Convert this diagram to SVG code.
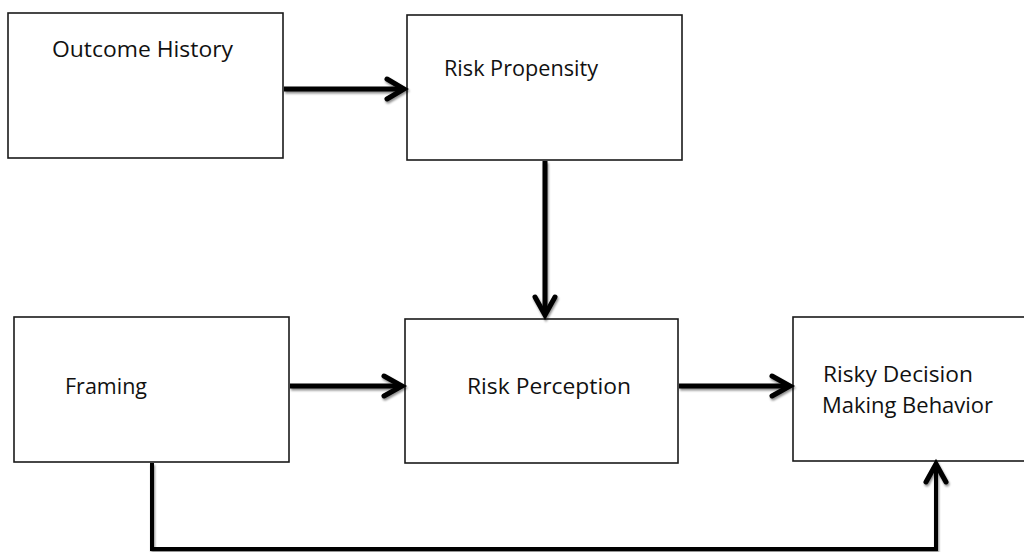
<svg xmlns="http://www.w3.org/2000/svg" width="1024" height="552" viewBox="0 0 1024 552">
  <style>
    .box { fill: #ffffff; stroke: #1a1a1a; stroke-width: 1.6; }
    .lbl { font-family: "Open Sans", "Liberation Sans", sans-serif; font-size: 22px; fill: #111111; }
    .conn { fill: none; stroke: #000000; stroke-width: 5; stroke-linejoin: miter; }
    .conn2 { fill: none; stroke: #000000; stroke-width: 4; stroke-linejoin: miter; }
    .head { fill: none; stroke: #000000; stroke-width: 5; stroke-linecap: round; stroke-linejoin: miter; }
  </style>
  <defs>
    <filter id="sh" x="-10%" y="-10%" width="120%" height="130%">
      <feDropShadow dx="1" dy="2" stdDeviation="1" flood-color="#000000" flood-opacity="0.45"/>
    </filter>
  </defs>
  <rect width="1024" height="552" fill="#ffffff"/>

  <g id="node-outcome-history">
    <rect class="box" x="8" y="13" width="275" height="145"/>
    <text class="lbl" x="52" y="57" textLength="181" lengthAdjust="spacingAndGlyphs">Outcome History</text>
  </g>
  <g id="node-risk-propensity">
    <rect class="box" x="407" y="15" width="275" height="145"/>
    <text class="lbl" x="444" y="76" textLength="154" lengthAdjust="spacingAndGlyphs">Risk Propensity</text>
  </g>
  <g id="node-framing">
    <rect class="box" x="14" y="317" width="275" height="145"/>
    <text class="lbl" x="65" y="394" textLength="82" lengthAdjust="spacingAndGlyphs">Framing</text>
  </g>
  <g id="node-risk-perception">
    <rect class="box" x="405" y="319" width="273" height="144"/>
    <text class="lbl" x="467" y="394" textLength="164" lengthAdjust="spacingAndGlyphs">Risk Perception</text>
  </g>
  <g id="node-risky-decision">
    <rect class="box" x="793" y="317" width="240" height="144"/>
    <text class="lbl" x="823" y="382" textLength="150" lengthAdjust="spacingAndGlyphs">Risky Decision</text>
    <text class="lbl" x="822" y="413" textLength="171" lengthAdjust="spacingAndGlyphs">Making Behavior</text>
  </g>

  <g id="connectors" filter="url(#sh)">
    <line class="conn" x1="284" y1="89" x2="403" y2="89"/>
    <polyline class="head" points="387,79 404,89 387,99"/>

    <line class="conn" x1="545" y1="161" x2="545" y2="314"/>
    <polyline class="head" points="535,297 545,315 555,297"/>

    <line class="conn" x1="290" y1="386" x2="401" y2="386"/>
    <polyline class="head" points="384,376 402,386 384,396"/>

    <line class="conn" x1="679" y1="386" x2="789" y2="386"/>
    <polyline class="head" points="772,376 790,386 772,396"/>

    <polyline class="conn2" points="152,463 152,549 936,549 936,465"/>
    <polyline class="head" points="926,482 936,464 946,482"/>
  </g>
</svg>
